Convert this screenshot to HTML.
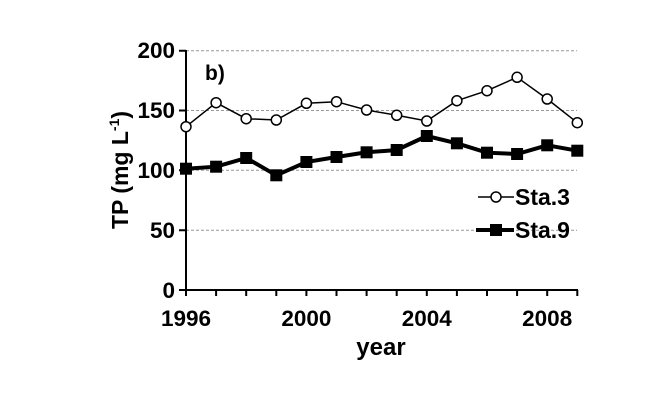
<!DOCTYPE html>
<html><head><meta charset="utf-8"><style>body{margin:0;background:#fff}svg{display:block}</style></head><body>
<svg width="664" height="405" xmlns="http://www.w3.org/2000/svg" font-family="Liberation Sans, Arial, sans-serif" font-weight="bold">
<g stroke="#999" stroke-dasharray="3,2" stroke-width="1">
<line x1="186" y1="50.7" x2="577" y2="50.7"/><line x1="186" y1="110.5" x2="577" y2="110.5"/><line x1="186" y1="170.3" x2="577" y2="170.3"/><line x1="186" y1="230.2" x2="577" y2="230.2"/>
</g>
<g stroke="#000" stroke-width="2">
<line x1="186" y1="50" x2="186" y2="291"/><line x1="185" y1="290" x2="578" y2="290"/>
<path d="M179 50.7H186M179 110.5H186M179 170.3H186M179 230.2H186M179 290H186"/>
<path d="M186 290V296M216.1 290V296M246.2 290V296M276.3 290V296M306.4 290V296M336.5 290V296M366.6 290V296M396.7 290V296M426.8 290V296M456.9 290V296M487 290V296M517.1 290V296M547.2 290V296M577.3 290V296"/>
</g>
<g font-size="22.5" text-anchor="end">
<text x="175" y="58">200</text><text x="175" y="118">150</text><text x="175" y="178">100</text><text x="175" y="238">50</text><text x="175" y="298">0</text>
</g>
<g font-size="22.5" text-anchor="middle">
<text x="186" y="326">1996</text><text x="306.4" y="326">2000</text><text x="426.8" y="326">2004</text><text x="547.2" y="326">2008</text>
<text x="381" y="355" font-size="24">year</text>
</g>
<text x="205" y="80" font-size="21">b)</text>
<text transform="translate(128,170) rotate(-90)" font-size="23" text-anchor="middle">TP (mg L<tspan font-size="14" dy="-9">-1</tspan><tspan dy="9">)</tspan></text>
<polyline fill="none" stroke="#000" stroke-width="1.5" points="186,126.7 216.1,102.7 246.2,118.7 276.3,120 306.4,103.3 336.5,101.7 366.6,110 396.7,115.3 426.8,121 456.9,100.7 487,90.7 517.1,77.3 547.2,99 577.3,122.7"/>
<g fill="#fff" stroke="#000" stroke-width="1.5">
<circle cx="186" cy="126.7" r="5"/><circle cx="216.1" cy="102.7" r="5"/><circle cx="246.2" cy="118.7" r="5"/><circle cx="276.3" cy="120" r="5"/><circle cx="306.4" cy="103.3" r="5"/><circle cx="336.5" cy="101.7" r="5"/><circle cx="366.6" cy="110" r="5"/><circle cx="396.7" cy="115.3" r="5"/><circle cx="426.8" cy="121" r="5"/><circle cx="456.9" cy="100.7" r="5"/><circle cx="487" cy="90.7" r="5"/><circle cx="517.1" cy="77.3" r="5"/><circle cx="547.2" cy="99" r="5"/><circle cx="577.3" cy="122.7" r="5"/>
</g>
<polyline fill="none" stroke="#000" stroke-width="4" points="186,168.7 216.1,166.7 246.2,158 276.3,175.3 306.4,162 336.5,157 366.6,152.3 396.7,150 426.8,136 456.9,143.3 487,152.7 517.1,154 547.2,145.3 577.3,150.7"/>
<g fill="#000">
<rect x="180" y="162.7" width="12" height="12"/><rect x="210.1" y="160.7" width="12" height="12"/><rect x="240.2" y="152" width="12" height="12"/><rect x="270.3" y="169.3" width="12" height="12"/><rect x="300.4" y="156" width="12" height="12"/><rect x="330.5" y="151" width="12" height="12"/><rect x="360.6" y="146.3" width="12" height="12"/><rect x="390.7" y="144" width="12" height="12"/><rect x="420.8" y="130" width="12" height="12"/><rect x="450.9" y="137.3" width="12" height="12"/><rect x="481" y="146.7" width="12" height="12"/><rect x="511.1" y="148" width="12" height="12"/><rect x="541.2" y="139.3" width="12" height="12"/><rect x="571.3" y="144.7" width="12" height="12"/>
</g>
<line x1="478" y1="197" x2="514" y2="197" stroke="#000" stroke-width="1.5"/>
<circle cx="496" cy="197" r="5" fill="#fff" stroke="#000" stroke-width="1.5"/>
<line x1="476" y1="230" x2="514" y2="230" stroke="#000" stroke-width="4"/>
<rect x="490" y="224" width="12" height="12"/>
<text x="515" y="205" font-size="23">Sta.3</text>
<text x="515" y="238" font-size="23">Sta.9</text>
</svg>
</body></html>
